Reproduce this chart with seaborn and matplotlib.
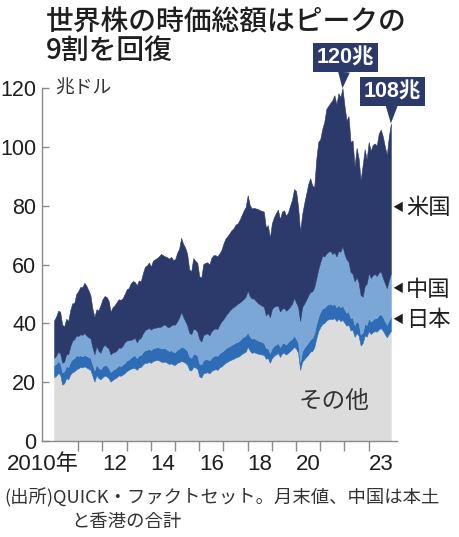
import numpy as np
import matplotlib
matplotlib.use("Agg")
import matplotlib.pyplot as plt
import seaborn as sns

# ---------------- data (month-end, trillion USD, stacked tops) ----------------
# Jan 2010 .. Dec 2023, one row per year (12 months)
other_top = [
    21.7, 22.2, 23.1, 22.6, 19.2, 19.6, 21.4, 21.0, 22.6, 23.4, 23.7, 24.4,
    24.7, 25.2, 25.0, 25.4, 25.0, 24.6, 24.2, 22.2, 20.2, 22.4, 21.4, 21.0,
    21.7, 22.2, 22.0, 21.4, 20.2, 20.8, 21.2, 21.7, 22.3, 22.2, 22.6, 23.1,
    23.8, 24.2, 24.6, 24.8, 24.8, 24.2, 25.0, 25.2, 26.0, 26.6, 26.6, 26.9,
    26.6, 27.2, 27.4, 27.6, 27.4, 27.0, 26.9, 27.0, 26.6, 26.2, 26.4, 26.0,
    25.9, 26.6, 26.8, 27.2, 27.0, 26.6, 26.0, 24.2, 24.0, 25.2, 25.0, 24.6,
    22.0, 21.6, 23.0, 23.2, 23.4, 23.0, 23.8, 24.2, 24.4, 24.2, 25.0, 25.4,
    26.0, 26.6, 27.0, 27.4, 27.7, 28.0, 28.4, 28.6, 29.0, 29.6, 30.0, 30.4,
    32.1, 30.8, 30.0, 30.2, 30.0, 29.7, 29.6, 29.4, 29.3, 28.0, 28.2, 26.6,
    28.2, 29.0, 29.4, 30.0, 28.6, 29.8, 30.0, 29.4, 30.0, 30.6, 31.2, 32.1,
    31.4, 30.0, 24.2, 26.9, 27.8, 28.6, 29.4, 30.4, 30.6, 31.9, 34.9, 37.4,
    38.8, 39.8, 40.2, 41.0, 41.4, 41.6, 41.4, 41.8, 40.8, 41.6, 40.8, 41.2,
    40.2, 39.2, 39.6, 37.6, 37.8, 35.5, 36.7, 35.9, 32.5, 33.3, 35.9, 35.5,
    37.4, 36.4, 37.0, 37.4, 37.2, 38.0, 38.4, 37.6, 36.4, 35.3, 36.4, 37.4,
]
japan_top = [
    25.8, 26.2, 27.2, 26.5, 23.4, 23.7, 25.6, 25.1, 26.9, 27.8, 28.2, 29.2,
    28.9, 29.2, 28.8, 29.3, 28.9, 28.6, 28.3, 26.1, 24.0, 26.1, 24.9, 24.4,
    25.3, 25.9, 25.7, 24.9, 23.5, 24.1, 24.5, 25.0, 25.7, 25.5, 26.0, 26.6,
    27.4, 27.7, 28.3, 28.9, 29.1, 28.2, 29.1, 29.3, 30.2, 30.9, 31.0, 31.4,
    30.9, 31.6, 31.7, 31.9, 31.8, 31.5, 31.5, 31.6, 31.1, 30.6, 30.9, 30.4,
    30.2, 31.1, 31.4, 32.0, 31.9, 31.4, 30.8, 28.7, 28.3, 29.7, 29.6, 29.1,
    26.3, 26.0, 27.5, 27.8, 27.9, 27.4, 28.3, 28.9, 29.1, 29.0, 29.8, 30.3,
    30.8, 31.5, 31.9, 32.3, 32.7, 33.1, 33.5, 33.7, 34.2, 35.0, 35.5, 35.9,
    37.0, 35.6, 34.8, 35.0, 34.6, 34.2, 34.0, 33.7, 33.4, 31.6, 31.6, 29.9,
    31.6, 32.4, 32.8, 33.4, 32.0, 33.1, 33.4, 32.8, 33.6, 34.3, 34.8, 35.8,
    34.8, 33.4, 26.9, 30.5, 31.7, 32.6, 33.5, 34.6, 35.0, 36.6, 39.8, 42.2,
    44.0, 45.1, 45.3, 46.1, 46.5, 46.7, 46.3, 46.7, 45.5, 46.3, 45.5, 46.1,
    44.7, 43.6, 44.0, 41.8, 42.0, 39.4, 40.8, 40.0, 36.2, 37.0, 39.8, 39.5,
    41.8, 40.6, 41.2, 41.8, 41.8, 42.8, 43.2, 42.2, 40.8, 39.5, 41.0, 42.2,
]
china_top = [
    28.3, 29.0, 30.4, 29.8, 26.6, 27.0, 29.6, 29.5, 32.2, 34.1, 34.6, 35.9,
    35.7, 36.3, 36.1, 36.7, 35.9, 35.3, 34.9, 31.9, 29.5, 32.3, 30.7, 30.0,
    31.9, 32.7, 32.1, 31.5, 29.5, 30.1, 30.3, 30.8, 31.8, 31.7, 32.4, 33.6,
    34.2, 34.3, 34.4, 34.7, 35.1, 33.6, 34.7, 35.1, 36.6, 37.6, 38.1, 38.4,
    37.9, 38.4, 38.5, 38.7, 38.8, 38.9, 39.5, 39.6, 38.9, 38.7, 39.3, 39.6,
    39.6, 40.7, 42.0, 43.9, 42.3, 40.8, 39.4, 36.8, 36.4, 38.1, 38.0, 37.3,
    34.7, 33.8, 36.0, 36.4, 36.6, 36.0, 37.3, 38.0, 38.3, 38.1, 39.6, 40.7,
    41.5, 42.6, 43.5, 44.3, 45.1, 45.6, 46.1, 46.7, 47.1, 47.7, 48.3, 49.1,
    51.2, 49.3, 48.5, 48.5, 47.7, 46.9, 46.5, 46.0, 45.7, 42.7, 43.6, 42.1,
    44.9, 45.7, 45.9, 46.1, 44.1, 44.9, 45.3, 44.3, 44.9, 45.7, 46.7, 48.7,
    47.1, 45.6, 40.9, 45.6, 46.7, 48.0, 49.5, 50.7, 50.9, 52.3, 55.4, 58.4,
    60.9, 63.0, 62.8, 63.8, 64.4, 64.6, 63.6, 64.2, 62.8, 64.6, 64.4, 66.3,
    63.6, 61.8, 61.0, 57.5, 56.9, 54.3, 55.7, 53.9, 49.7, 49.1, 52.7, 53.5,
    57.1, 55.5, 56.3, 56.9, 56.1, 57.3, 57.7, 55.5, 53.7, 52.0, 54.7, 57.1,
]
world_total = [
    41.0, 42.3, 44.3, 44.0, 39.6, 38.9, 41.6, 40.8, 44.5, 46.8, 47.0, 50.0,
    51.0, 52.4, 52.3, 53.8, 52.8, 51.3, 49.6, 45.0, 42.2, 44.8, 44.4, 46.2,
    48.2, 49.3, 49.0, 47.8, 44.0, 45.5, 46.2, 47.2, 48.2, 48.0, 48.6, 50.0,
    51.6, 52.0, 53.6, 54.4, 54.1, 53.0, 54.6, 54.3, 57.0, 59.2, 59.7, 60.7,
    59.3, 61.3, 61.8, 62.2, 62.8, 63.6, 63.2, 62.8, 62.5, 62.0, 62.6, 61.6,
    61.8, 64.0, 65.4, 69.1, 67.0, 65.8, 63.6, 58.3, 57.8, 62.2, 61.3, 60.6,
    56.0, 55.6, 60.2, 60.6, 60.8, 60.0, 62.3, 63.2, 63.2, 62.8, 63.8, 65.0,
    67.2, 68.9, 69.7, 70.7, 71.7, 72.4, 73.6, 74.0, 75.2, 76.8, 78.4, 79.6,
    83.6, 80.3, 79.1, 79.3, 79.1, 78.9, 78.5, 78.3, 78.0, 72.6, 73.4, 69.1,
    74.1, 76.1, 77.5, 78.7, 75.4, 78.0, 78.5, 76.6, 77.7, 80.0, 82.1, 85.7,
    85.0, 79.5, 71.2, 77.1, 80.8, 84.0, 87.4, 89.4, 86.9, 86.4, 95.8, 101.7,
    102.7, 106.2, 108.6, 113.0, 114.0, 115.0, 116.0, 117.6, 114.5, 118.3, 117.0, 120.0,
    114.0, 109.0, 110.5, 101.7, 102.2, 93.3, 99.7, 96.2, 88.7, 93.8, 99.2, 95.8,
    101.7, 98.7, 100.7, 101.2, 100.5, 104.6, 105.9, 103.6, 100.2, 97.3, 103.6, 108.0,
]
series_names = ["その他", "日本", "中国", "米国"]
start_year = 2010
year_boundaries = list(range(2011, 2024))
label_years = [2011.0, 2012.5, 2014.5, 2016.5, 2018.5, 2020.5, 2023.5]
label_texts = ["2010年", "12", "14", "16", "18", "20", "23"]
y_ticks = [0, 20, 40, 60, 80, 100, 120]

# ---------------- style ----------------
sns.set_theme(style="white")
NUM_FONT = ["Liberation Sans", "Noto Sans CJK JP", "DejaVu Sans"]
JP_FONT = ["Noto Sans CJK JP", "DejaVu Sans"]
plt.rcParams["font.family"] = NUM_FONT

C_OTHER = "#dcdcdc"
C_JAPAN = "#2f6cb6"
C_CHINA = "#7ba7d7"
C_US = "#2b3a6b"
AXIS_GRAY = "#8a8a8a"
TEXT = "#1e1e1e"

W, H = 460, 537
fig = plt.figure(figsize=(W / 100, H / 100), dpi=100)
fig.patch.set_facecolor("white")

ax_left, ax_right = 42, 397
y0_px, px_per_unit = 441, 2.94
y_top = 121
ax = fig.add_axes([ax_left / W, 1 - y0_px / H, (ax_right - ax_left) / W,
                   y_top * px_per_unit / H])
ax.set_facecolor("none")

n = len(world_total)
x = start_year + np.arange(n) / 12.0
other = np.array(other_top)
japan = np.array(japan_top)
china = np.array(china_top)
total = np.array(world_total)

zero = np.zeros(n)
for lo, hi, col in [(zero, other, C_OTHER), (other, japan, C_JAPAN),
                    (japan, china, C_CHINA), (china, total, C_US)]:
    ax.fill_between(x, lo, hi, color=col, linewidth=0.4, edgecolor=col, zorder=2)

ax.set_xlim(2009.5, 2024.17)
ax.set_ylim(0, y_top)
sns.despine(ax=ax, top=True, right=True)
ax.spines["left"].set_bounds(0, 120)
for s in ["left", "bottom"]:
    ax.spines[s].set_color(AXIS_GRAY)
    ax.spines[s].set_linewidth(1.0)
    ax.spines[s].set_zorder(3)

ax.set_yticks(y_ticks)
ax.set_yticklabels([str(v) for v in y_ticks])
ax.tick_params(axis="y", direction="in", length=5, width=1, color=AXIS_GRAY,
               pad=4, labelsize=15.5, labelcolor=TEXT, left=True)

ax.xaxis.remove_overlapping_locs = False
ax.set_xticks(year_boundaries)
ax.set_xticklabels([])
ax.set_xticks(label_years, minor=True)
ax.set_xticklabels(label_texts, minor=True)
ax.tick_params(axis="x", which="major", direction="out", length=7, width=1,
               color=AXIS_GRAY, bottom=True)
ax.tick_params(axis="x", which="minor", length=0, pad=9, labelsize=16,
               labelcolor=TEXT, bottom=True)
ax.get_xticklabels(minor=True)[0].set_horizontalalignment("right")
ax.grid(False)


def fx(px):
    return px / W


def fy(py):
    return 1 - py / H


# title
fig.text(fx(46), fy(22), "世界株の時価総額はピークの", family=JP_FONT, fontsize=20,
         fontweight=500, color=TEXT, ha="left", va="center")
fig.text(fx(46), fy(50), "9割を回復", family=JP_FONT, fontsize=20,
         fontweight=500, color=TEXT, ha="left", va="center")

# unit
fig.text(fx(55), fy(88), "兆ドル", family=JP_FONT, fontsize=13.5, color="#333333",
         ha="left", va="center")


# callouts
def callout(i, dx, dy):
    ax.annotate(f"{round(total[i])}兆", xy=(x[i], total[i]), xytext=(dx, dy),
                textcoords="offset points", ha="center", va="center",
                family=["Liberation Sans", "Noto Sans CJK JP"], fontsize=15.5,
                fontweight="bold", color="white", zorder=6,
                bbox=dict(boxstyle="square,pad=0.18", fc=C_US, ec="none"),
                arrowprops=dict(arrowstyle="wedge,tail_width=0.55,shrink_factor=0.5",
                                fc=C_US, ec="none", shrinkA=0, shrinkB=0),
                annotation_clip=False)


callout(int(np.argmax(total)), 2, 22)
callout(n - 1, 1, 23)

# right-side series labels
for name, py in [(series_names[3], 208), (series_names[2], 289), (series_names[1], 320)]:
    fig.text(fx(392), fy(py), "◀", family=JP_FONT, fontsize=8, color=TEXT,
             ha="left", va="center")
    fig.text(fx(406), fy(py), name, family=JP_FONT, fontsize=16, color=TEXT,
             ha="left", va="center")

fig.text(fx(334), fy(402), series_names[0], family=JP_FONT, fontsize=17,
         color="#333333", ha="center", va="center")

# source note
fig.text(fx(4), fy(498), "(出所)QUICK・ファクトセット。月末値、中国は本土",
         family=JP_FONT, fontsize=13.2, color="#333333", ha="left", va="center")
fig.text(fx(71), fy(522), "と香港の合計", family=JP_FONT, fontsize=13.2,
         color="#333333", ha="left", va="center")

fig.savefig("out.png", dpi=100, facecolor="white")
